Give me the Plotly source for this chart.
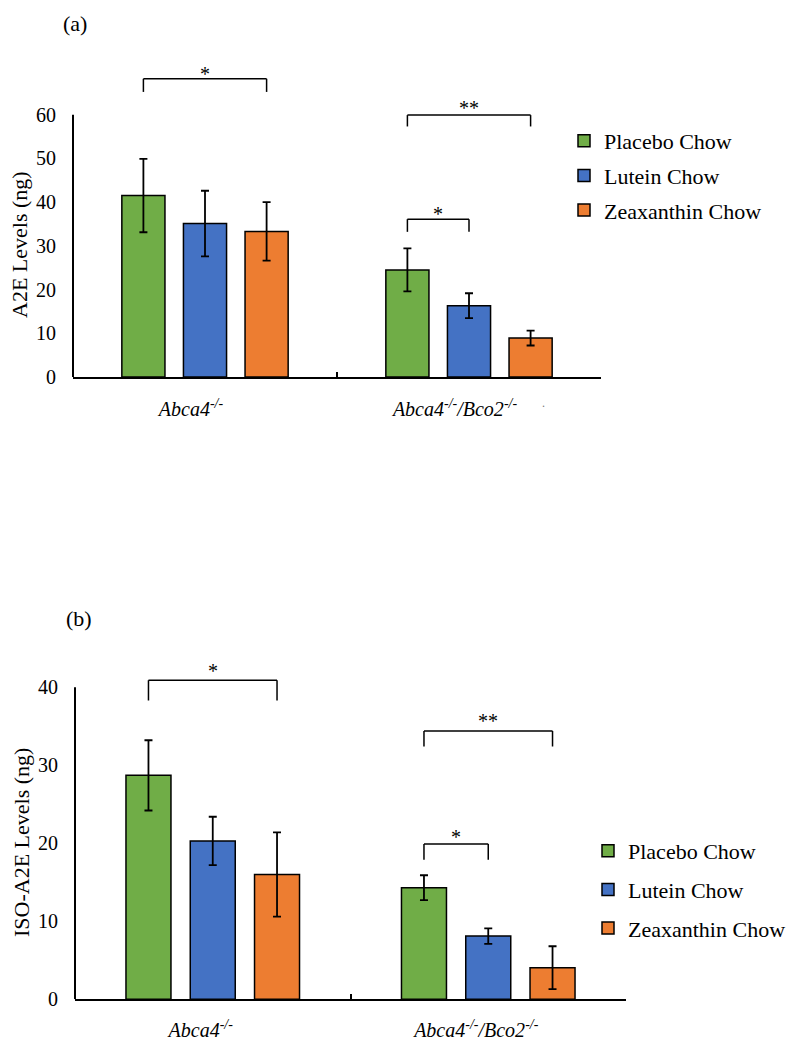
import plotly.graph_objects as go

# groups and diets
genotypes = ['<i>Abca4<sup>-/-</sup></i>', '<i>Abca4<sup>-/-</sup>/Bco2<sup>-/-</sup></i>']
diets = ['Placebo Chow', 'Lutein Chow', 'Zeaxanthin Chow']
colors = ['#70AD47', '#4472C4', '#ED7D31']

# (a) A2E levels (ng), mean and error
a2e_placebo = [41.5, 24.5]
a2e_lutein = [35.1, 16.3]
a2e_zeaxanthin = [33.3, 8.9]
a2e_placebo_err = [8.4, 4.9]
a2e_lutein_err = [7.5, 2.85]
a2e_zeaxanthin_err = [6.7, 1.7]

# (b) ISO-A2E levels (ng), mean and error
iso_placebo = [28.7, 14.3]
iso_lutein = [20.3, 8.1]
iso_zeaxanthin = [16.0, 4.05]
iso_placebo_err = [4.5, 1.6]
iso_lutein_err = [3.1, 1.0]
iso_zeaxanthin_err = [5.4, 2.75]

# significance brackets: (group, first bar, last bar, top, leg end, stars, star y)
a2e_brackets = [(0, 0, 2, 68.2, 65.2, '*', 70.0),
                (1, 0, 2, 59.9, 57.3, '**', 62.2),
                (1, 0, 1, 36.1, 33.2, '*', 38.0)]
iso_brackets = [(0, 0, 2, 40.9, 38.3, '*', 42.5),
                (1, 0, 2, 34.4, 32.4, '**', 36.0),
                (1, 0, 1, 19.9, 17.9, '*', 21.2)]

a2e_ticks = [0, 10, 20, 30, 40, 50, 60]
iso_ticks = [0, 10, 20, 30, 40]

W, H, PAD = 780, 1034, 8
BARGAP = 0.3
FONT = 'Liberation Serif, Times New Roman, serif'


def px_x(p):
    return (p - PAD) / W


def px_y(p):
    return 1 - (p - PAD) / H


fig = go.Figure()

panels = [
    ('x', 'y', 'legend', [a2e_placebo, a2e_lutein, a2e_zeaxanthin],
     [a2e_placebo_err, a2e_lutein_err, a2e_zeaxanthin_err]),
    ('x2', 'y2', 'legend2', [iso_placebo, iso_lutein, iso_zeaxanthin],
     [iso_placebo_err, iso_lutein_err, iso_zeaxanthin_err]),
]
for xa, ya, leg, values, errs in panels:
    for k, diet in enumerate(diets):
        fig.add_trace(go.Bar(
            x=genotypes, y=values[k], name=diet, xaxis=xa, yaxis=ya,
            legend=leg, legendgroup=f'{leg}{k}',
            marker=dict(color=colors[k], line=dict(color='black', width=1.5)),
            error_y=dict(type='data', array=errs[k], color='black', thickness=1.8, width=4),
        ))

# brackets with stars
slot = (1 - BARGAP) / 3
for xa, ya, brackets in [('x', 'y', a2e_brackets), ('x2', 'y2', iso_brackets)]:
    for g, b0, b1, top, leg_end, stars, sy in brackets:
        x0 = g + (b0 - 1) * slot
        x1 = g + (b1 - 1) * slot
        line = dict(color='black', width=1.5)
        fig.add_shape(type='line', xref=xa, yref=ya, x0=x0, x1=x1, y0=top, y1=top, line=line)
        fig.add_shape(type='line', xref=xa, yref=ya, x0=x0, x1=x0, y0=top, y1=leg_end, line=line)
        fig.add_shape(type='line', xref=xa, yref=ya, x0=x1, x1=x1, y0=top, y1=leg_end, line=line)
        fig.add_annotation(xref=xa, yref=ya, x=(x0 + x1) / 2, y=sy, text=stars, showarrow=False,
                           xanchor='center', yanchor='middle', yshift=-3, font=dict(size=20))

# y axis lines only up to the last tick
fig.add_shape(type='line', xref='x domain', yref='y', x0=0, x1=0, y0=0, y1=a2e_ticks[-1],
              line=dict(color='black', width=2))
fig.add_shape(type='line', xref='x2 domain', yref='y2', x0=0, x1=0, y0=0, y1=iso_ticks[-1],
              line=dict(color='black', width=2))

paper_text = [
    (75, 23, '(a)', 0, 22),
    (79, 618, '(b)', 0, 22),
    (20, 245, 'A2E Levels (ng)', -90, 22),
    (21, 843, 'ISO-A2E Levels (ng)', -90, 22),
]
for px, py, txt, ang, size in paper_text:
    fig.add_annotation(xref='paper', yref='paper', x=px_x(px), y=px_y(py), text=txt,
                       textangle=ang, xanchor='center', yanchor='middle', showarrow=False,
                       borderpad=0, font=dict(size=size))
fig.add_annotation(xref='paper', yref='paper', x=px_x(543), y=px_y(403), text='.',
                   xanchor='center', yanchor='middle', showarrow=False,
                   font=dict(size=12, color='#777'))

xaxis_style = dict(type='category', range=[-0.5, 1.5], showline=True, linecolor='black', linewidth=2,
                   ticks='inside', tickson='boundaries', ticklen=5, tickwidth=2, tickcolor='black',
                   tickfont=dict(size=20), showgrid=False, zeroline=False, fixedrange=True)
yaxis_style = dict(showline=False, showgrid=False, zeroline=False, ticks='',
                   tickfont=dict(size=20), ticklabelstandoff=16)

legend_style = dict(xanchor='left', yanchor='top', font=dict(size=22), traceorder='grouped',
                    bgcolor='rgba(0,0,0,0)', itemwidth=30)

fig.update_layout(
    width=W, height=H,
    margin=dict(l=0, r=0, t=0, b=0, autoexpand=False),
    paper_bgcolor='white', plot_bgcolor='white',
    font=dict(family=FONT, color='black'),
    barmode='group', bargap=BARGAP, bargroupgap=0.3,
    xaxis=dict(xaxis_style, domain=[px_x(73), px_x(601)], anchor='y', ticklabelshift=-14,
               ticklabelstandoff=13),
    yaxis=dict(yaxis_style, domain=[px_y(377), px_y(60)], anchor='x', range=[0, 72.5],
               tickvals=a2e_ticks),
    xaxis2=dict(xaxis_style, domain=[px_x(75), px_x(626)], anchor='y2', ticklabelshift=-12,
                ticklabelstandoff=12),
    yaxis2=dict(yaxis_style, domain=[px_y(999.3), px_y(656)], anchor='x2', range=[0, 44],
                tickvals=iso_ticks),
    legend=dict(legend_style, x=px_x(564), y=px_y(120), tracegroupgap=3),
    legend2=dict(legend_style, x=px_x(588), y=px_y(830), tracegroupgap=7),
    showlegend=True,
)

fig.write_html("out.html")
